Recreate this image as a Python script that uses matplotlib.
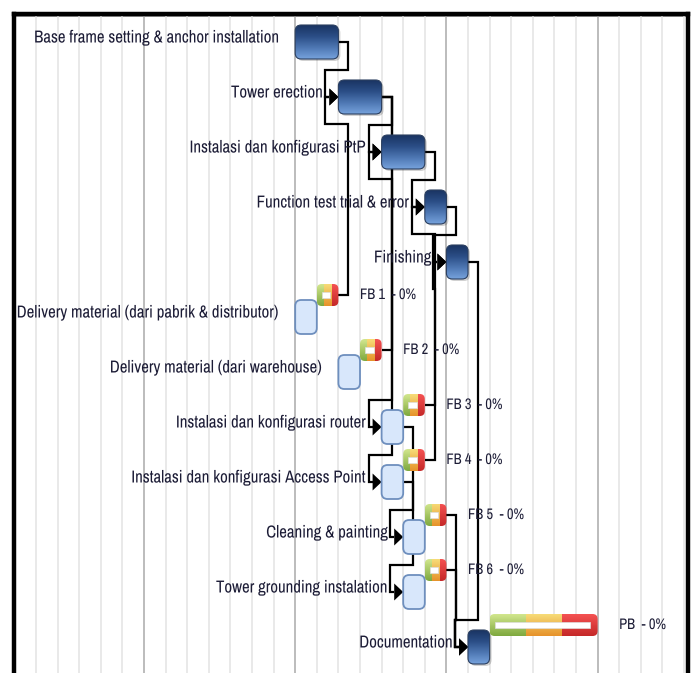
import numpy as np
import matplotlib
matplotlib.use("Agg")
import matplotlib.pyplot as plt
from matplotlib.patches import FancyBboxPatch, Polygon
from matplotlib.colors import LinearSegmentedColormap, to_rgb
from matplotlib.ticker import MultipleLocator
from matplotlib.transforms import Affine2D
from matplotlib.patheffects import AbstractPathEffect
from matplotlib import font_manager

# ---- schedule data -------------------------------------------------------
tasks = [
    "Base frame setting & anchor installation",
    "Tower erection",
    "Instalasi dan konfigurasi PtP",
    "Function test trial & error",
    "Finishing",
    "Delivery material (dari pabrik & distributor)",
    "Delivery material (dari warehouse)",
    "Instalasi dan konfigurasi router",
    "Instalasi dan konfigurasi Access Point",
    "Cleaning & painting",
    "Tower grounding instalation",
    "Documentation",
]
task_start = [13, 15, 17, 19, 20, 13, 15, 17, 17, 18, 18, 21]
task_days = [2, 2, 2, 1, 1, 1, 1, 1, 1, 1, 1, 1]
critical = [True, True, True, True, True,
            False, False, False, False, False, False, True]

buffers = ["FB 1", "FB 2", "FB 3", "FB 4", "FB 5", "FB 6", "PB"]
buffer_row = [5, 6, 7, 8, 9, 10, 11]
buffer_start = [14, 16, 18, 18, 19, 19, 22]
buffer_days = [1, 1, 1, 1, 1, 1, 5]
buffer_pct = [0, 0, 0, 0, 0, 0, 0]

# finish-to-start links between tasks, and from feeding buffers into tasks
task_links = [(0, 1), (1, 2), (2, 3), (3, 4), (4, 11),
              (1, 7), (1, 8), (7, 9), (8, 10)]
buffer_links = [(0, 1), (1, 2), (2, 3), (3, 4), (4, 11), (5, 11)]

# ---- figure geometry -----------------------------------------------------
W, H, DPI = 693, 673, 100
DAY_PX, ROW_PX = 21.6, 55.0
FRAME_L, FRAME_R, FRAME_T = 14.4, 688.0, 14.0
ROW0_PX = 42.0

fig = plt.figure(figsize=(W / DPI, H / DPI), dpi=DPI)
ax = fig.add_axes([FRAME_L / W, 0, (FRAME_R - FRAME_L) / W, 1 - FRAME_T / H])
ax.set_xlim(0, (FRAME_R - FRAME_L) / DAY_PX)
ax.set_ylim((H - ROW0_PX) / ROW_PX, (FRAME_T - ROW0_PX) / ROW_PX)


def dx(px):
    return px / DAY_PX


def dy(px):
    return px / ROW_PX


ASPECT = DAY_PX / ROW_PX


# ---- label font: a narrow face when available, squeezed horizontally ----
def pick_font():
    names = {f.name for f in font_manager.fontManager.ttflist}
    for key in ("Narrow", "Condensed"):
        for n in sorted(names):
            if key in n and "Mono" not in n and "Serif" not in n:
                return dict(family=n)
    return dict(family="Liberation Sans")


FONT = pick_font()
renderer = fig.canvas.get_renderer()


def text_width(text, size):
    t = fig.text(0, 0, text, fontsize=size, **FONT)
    w = t.get_window_extent(renderer).width
    t.remove()
    return w


class HSqueeze(AbstractPathEffect):
    """Compress glyph outlines horizontally, keeping one edge fixed."""

    def __init__(self, sx, anchor="left"):
        super().__init__()
        self.sx = sx
        self.anchor = anchor

    def draw_path(self, renderer, gc, tpath, affine, rgbFace=None):
        if self.anchor == "right":
            x1 = tpath.get_extents().x1
            pre = Affine2D().translate(-x1, 0).scale(self.sx, 1).translate(x1, 0)
        else:
            pre = Affine2D().scale(self.sx, 1)
        renderer.draw_path(gc, tpath, pre + affine, rgbFace)


LABEL_SIZE = 12.5
LABEL_SX = min(1.0, 246 / text_width(tasks[0], LABEL_SIZE))
BUF_SIZE = 11.0
BUF_SX = min(1.0, 56 / text_width("FB 5  - 0%", BUF_SIZE))

# timescale grid: one line per day, darker line per week
ax.xaxis.set_major_locator(MultipleLocator(7, offset=6))
ax.xaxis.set_minor_locator(MultipleLocator(1))
ax.grid(which="minor", axis="x", color="#e9e9e9", lw=1.4, zorder=0)
ax.grid(which="major", axis="x", color="#b0b0b0", lw=1.2, zorder=0)
ax.tick_params(which="both", length=0, labelbottom=False, labelleft=False)
ax.set_yticks([])
for side in ("left", "top", "right"):
    ax.spines[side].set_linewidth(3.2)
    ax.spines[side].set_color("black")
ax.spines["bottom"].set_visible(False)
ax.plot([0, 1], [0.9965, 0.9965], transform=ax.transAxes,
        color="#9a9a9a", lw=1.4, zorder=1, clip_on=False)

TEXT = "#1c1c36"
LINE_W = 1.6

BAR_H = dy(34)
BUF_H = dy(22)
BUF_OFF = dy(22)


def rounded(x0, y0, w, h, r_px, **kw):
    return FancyBboxPatch((x0, y0), w, h,
                          boxstyle=f"round,pad=0,rounding_size={dx(r_px)}",
                          mutation_aspect=ASPECT, **kw)


navy = LinearSegmentedColormap.from_list(
    "navy", ["#1a3463", "#2b4e86", "#4e77b3", "#76a2dc"])


def draw_task(i):
    x0, w = task_start[i], task_days[i]
    yc = i
    y0 = yc - BAR_H / 2
    if critical[i]:
        shadow = rounded(x0 + dx(2), y0 + dy(2), w, BAR_H, 6,
                         fc="#000000", ec="none", alpha=0.18, zorder=4)
        ax.add_patch(shadow)
        box = rounded(x0, y0, w, BAR_H, 6, fc="none", ec="#2b3f60",
                      lw=0.8, zorder=6)
        ax.add_patch(box)
        grad = np.linspace(0, 1, 64)[:, None]
        im = ax.imshow(grad, cmap=navy, aspect="auto", origin="upper",
                       extent=(x0, x0 + w, y0 + BAR_H, y0),
                       interpolation="bilinear", zorder=5)
        im.set_clip_path(box)
    else:
        box = rounded(x0, y0, w, BAR_H, 6, fc="#d8e7fb", ec="#6e8fbe",
                      lw=1.3, zorder=5)
        ax.add_patch(box)
    ax.text(x0 - dx(15), yc - dy(4), tasks[i], ha="right", va="center",
            fontsize=LABEL_SIZE, color=TEXT, zorder=3,
            path_effects=[HSqueeze(LABEL_SX, "right")], **FONT)


band_top = ["#d2e78e", "#f7dc78", "#f55252"]
band_bot = ["#7ea83e", "#e6922a", "#c42828"]


def draw_buffer(k):
    x0, w = buffer_start[k], buffer_days[k]
    yc = buffer_row[k] - BUF_OFF
    y0 = yc - BUF_H / 2
    box = rounded(x0, y0, w, BUF_H, 5, fc="none", ec="none", zorder=6)
    ax.add_patch(box)
    t = np.linspace(0, 1, 48)[:, None, None]
    top = np.array([to_rgb(c) for c in band_top])[None, :, :]
    bot = np.array([to_rgb(c) for c in band_bot])[None, :, :]
    img = top * (1 - t) + bot * t
    im = ax.imshow(img, aspect="auto", origin="upper",
                   extent=(x0, x0 + w, y0 + BUF_H, y0),
                   interpolation="nearest", zorder=5)
    im.set_clip_path(box)
    inner_h = dy(6.5)
    ax.add_patch(plt.Rectangle((x0 + dx(5), yc - inner_h / 2),
                               w - dx(13), inner_h, fc="white",
                               ec="#dddddd", lw=0.5, zorder=7))
    ax.text(x0 + w + 1, yc, f"{buffers[k]}  - {buffer_pct[k]}%",
            ha="left", va="center", fontsize=BUF_SIZE,
            color=TEXT, zorder=3,
            path_effects=[HSqueeze(BUF_SX, "left")], **FONT)


OUT = dx(10)
APPROACH = dx(13)
MID = dy(27)
ARROW_W, ARROW_H = dx(9), dy(17)


def draw_link(x_end, y_src, x_start, y_dst):
    x_out = x_end + OUT
    x_in = x_start - APPROACH
    if x_in >= x_out:
        pts = [(x_end, y_src), (x_in, y_src), (x_in, y_dst),
               (x_start - ARROW_W, y_dst)]
    else:
        y_mid = y_dst - MID if y_dst > y_src else y_dst + MID
        pts = [(x_end, y_src), (x_out, y_src), (x_out, y_mid),
               (x_in, y_mid), (x_in, y_dst), (x_start - ARROW_W, y_dst)]
    xs, ys = zip(*pts)
    ax.plot(xs, ys, color="black", lw=LINE_W, zorder=2,
            solid_joinstyle="miter", solid_capstyle="butt")
    ax.add_patch(Polygon([(x_start - ARROW_W, y_dst - ARROW_H / 2),
                          (x_start, y_dst),
                          (x_start - ARROW_W, y_dst + ARROW_H / 2)],
                         closed=True, fc="black", ec="none", zorder=4))


for a, b in task_links:
    draw_link(task_start[a] + task_days[a], a, task_start[b], b)
for k, b in buffer_links:
    draw_link(buffer_start[k] + buffer_days[k], buffer_row[k] - BUF_OFF,
              task_start[b], b)

for i in range(len(tasks)):
    draw_task(i)
for k in range(len(buffers)):
    draw_buffer(k)

fig.savefig("out.png", dpi=DPI)
